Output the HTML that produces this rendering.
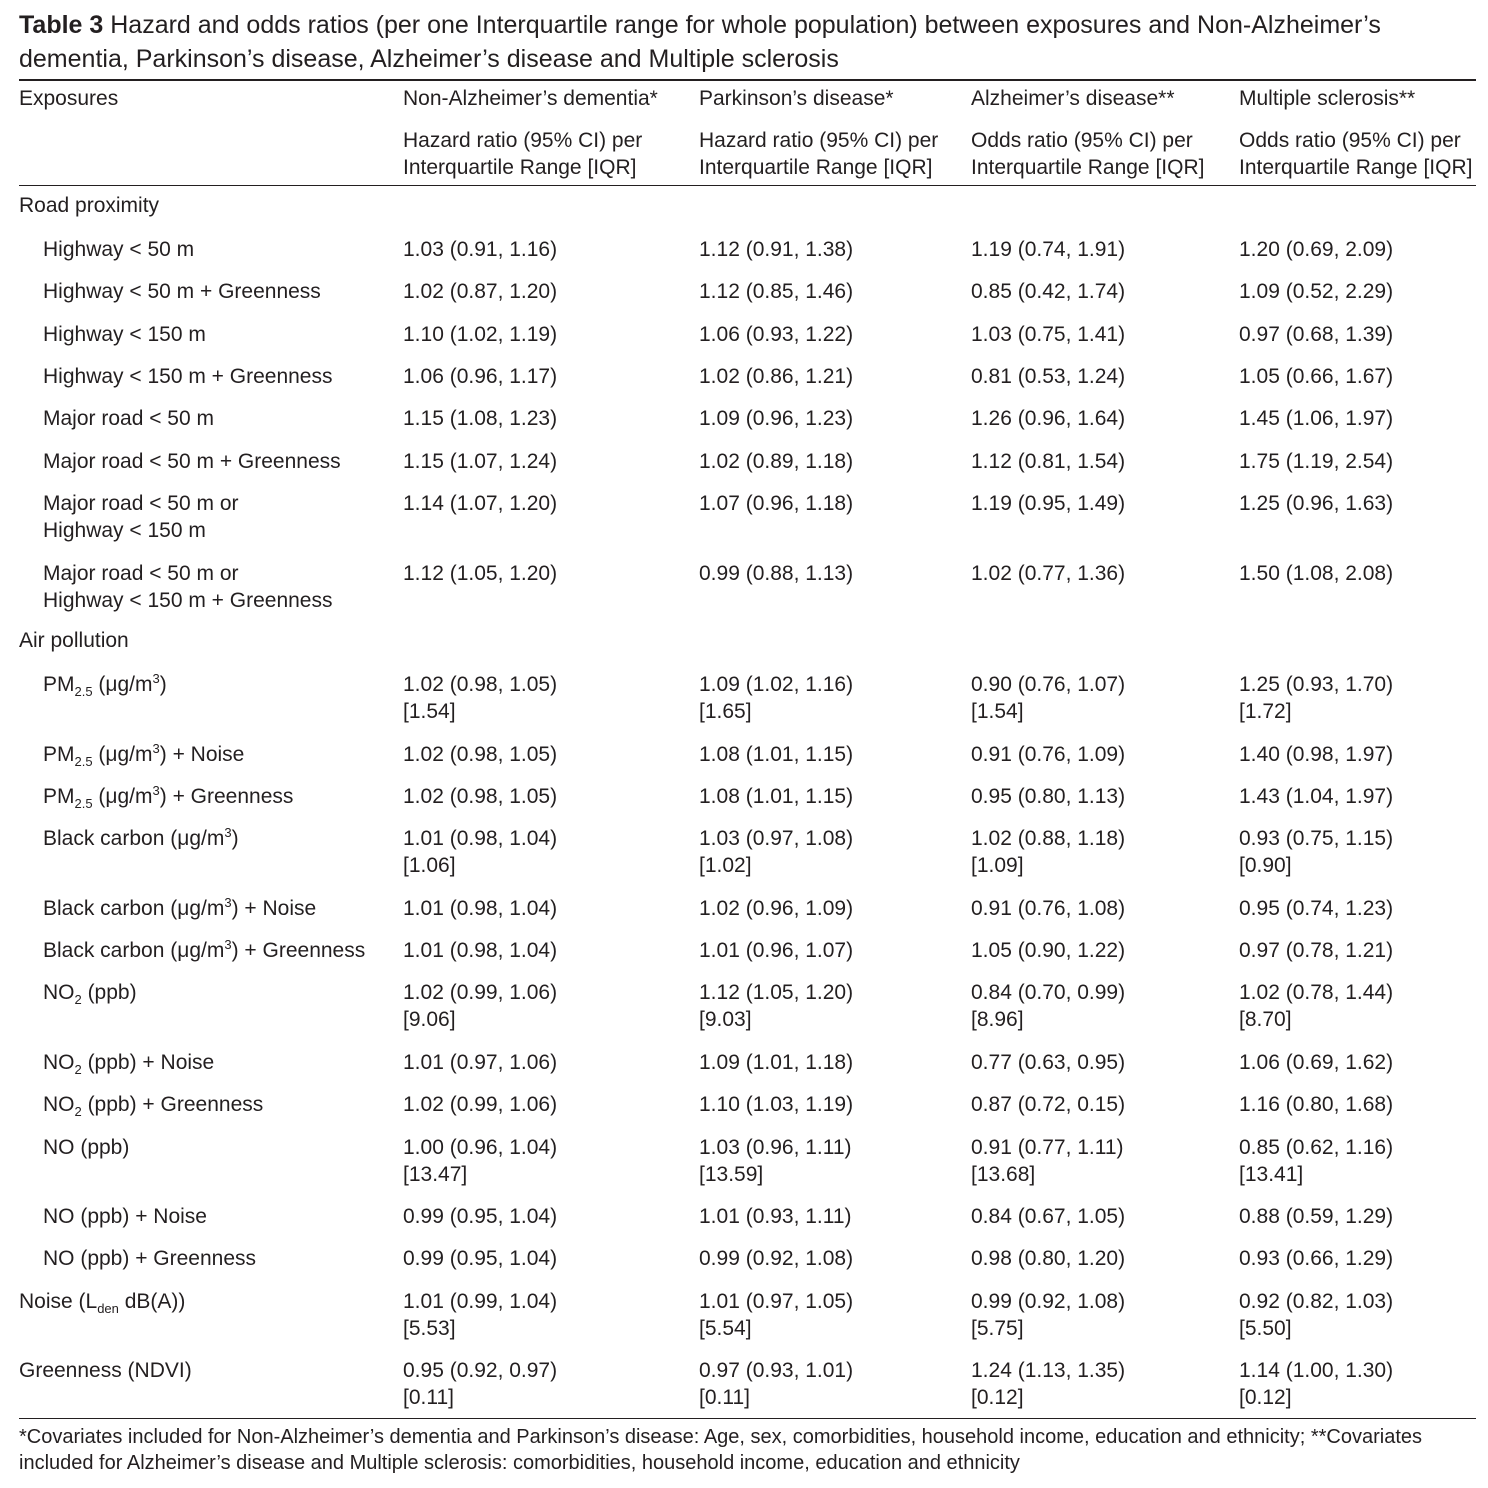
<!DOCTYPE html>
<html><head><meta charset="utf-8">
<style>
body{margin:0;background:#fff;}
#c{position:relative;width:1488px;height:1488px;font-family:"Liberation Sans","DejaVu Sans",sans-serif;color:#231f20;}
.t{position:absolute;white-space:nowrap;font-size:21px;line-height:24px;}
.h{position:absolute;left:19px;width:1457px;background:#231f20;}
sub,sup{font-size:13px;line-height:0;}
.ti{font-size:25px;line-height:28px;}
.f{font-size:20px;line-height:22px;}
</style></head><body><div id="c">
<div class="t ti" style="left:19px;top:11px"><b>Table 3</b> Hazard and odds ratios (per one Interquartile range for whole population) between exposures and Non-Alzheimer’s</div>
<div class="t ti" style="left:19px;top:45px">dementia, Parkinson’s disease, Alzheimer’s disease and Multiple sclerosis</div>
<div class="h" style="top:79px;height:2px"></div>
<div class="t" style="left:19px;top:87px">Exposures</div>
<div class="t" style="left:403px;top:87px">Non-Alzheimer’s dementia*</div>
<div class="t" style="left:699px;top:87px">Parkinson’s disease*</div>
<div class="t" style="left:971px;top:87px">Alzheimer’s disease**</div>
<div class="t" style="left:1239px;top:87px">Multiple sclerosis**</div>
<div class="t" style="left:403px;top:127px;line-height:27px">Hazard ratio (95% CI) per<br>Interquartile Range [IQR]</div>
<div class="t" style="left:699px;top:127px;line-height:27px">Hazard ratio (95% CI) per<br>Interquartile Range [IQR]</div>
<div class="t" style="left:971px;top:127px;line-height:27px">Odds ratio (95% CI) per<br>Interquartile Range [IQR]</div>
<div class="t" style="left:1239px;top:127px;line-height:27px">Odds ratio (95% CI) per<br>Interquartile Range [IQR]</div>
<div class="h" style="top:185px;height:1px"></div>
<div class="t" style="left:19px;top:194px">Road proximity</div>
<div class="t" style="left:19px;top:629px">Air pollution</div>
<div id="rows"></div>
<div class="h" style="top:1418px;height:1px"></div>
<div class="t f" style="left:19px;top:1426px">*Covariates included for Non-Alzheimer’s dementia and Parkinson’s disease: Age, sex, comorbidities, household income, education and ethnicity; **Covariates</div>
<div class="t f" style="left:19px;top:1452px">included for Alzheimer’s disease and Multiple sclerosis: comorbidities, household income, education and ethnicity</div>
</div>
<script>
var PM='PM<sub>2.5</sub> (μg/m<sup>3</sup>)',BC='Black carbon (μg/m<sup>3</sup>)',NO2='NO<sub>2</sub> (ppb)';
var R=[
[248,43,'Highway &lt; 50 m','1.03 (0.91, 1.16)','1.12 (0.91, 1.38)','1.19 (0.74, 1.91)','1.20 (0.69, 2.09)'],
[290,43,'Highway &lt; 50 m + Greenness','1.02 (0.87, 1.20)','1.12 (0.85, 1.46)','0.85 (0.42, 1.74)','1.09 (0.52, 2.29)'],
[333,43,'Highway &lt; 150 m','1.10 (1.02, 1.19)','1.06 (0.93, 1.22)','1.03 (0.75, 1.41)','0.97 (0.68, 1.39)'],
[375,43,'Highway &lt; 150 m + Greenness','1.06 (0.96, 1.17)','1.02 (0.86, 1.21)','0.81 (0.53, 1.24)','1.05 (0.66, 1.67)'],
[417,43,'Major road &lt; 50 m','1.15 (1.08, 1.23)','1.09 (0.96, 1.23)','1.26 (0.96, 1.64)','1.45 (1.06, 1.97)'],
[460,43,'Major road &lt; 50 m + Greenness','1.15 (1.07, 1.24)','1.02 (0.89, 1.18)','1.12 (0.81, 1.54)','1.75 (1.19, 2.54)'],
[502,43,'Major road &lt; 50 m or<br>Highway &lt; 150 m','1.14 (1.07, 1.20)','1.07 (0.96, 1.18)','1.19 (0.95, 1.49)','1.25 (0.96, 1.63)'],
[572,43,'Major road &lt; 50 m or<br>Highway &lt; 150 m + Greenness','1.12 (1.05, 1.20)','0.99 (0.88, 1.13)','1.02 (0.77, 1.36)','1.50 (1.08, 2.08)'],
[683,43,PM,'1.02 (0.98, 1.05)<br>[1.54]','1.09 (1.02, 1.16)<br>[1.65]','0.90 (0.76, 1.07)<br>[1.54]','1.25 (0.93, 1.70)<br>[1.72]'],
[753,43,PM+' + Noise','1.02 (0.98, 1.05)','1.08 (1.01, 1.15)','0.91 (0.76, 1.09)','1.40 (0.98, 1.97)'],
[795,43,PM+' + Greenness','1.02 (0.98, 1.05)','1.08 (1.01, 1.15)','0.95 (0.80, 1.13)','1.43 (1.04, 1.97)'],
[837,43,BC,'1.01 (0.98, 1.04)<br>[1.06]','1.03 (0.97, 1.08)<br>[1.02]','1.02 (0.88, 1.18)<br>[1.09]','0.93 (0.75, 1.15)<br>[0.90]'],
[907,43,BC+' + Noise','1.01 (0.98, 1.04)','1.02 (0.96, 1.09)','0.91 (0.76, 1.08)','0.95 (0.74, 1.23)'],
[949,43,BC+' + Greenness','1.01 (0.98, 1.04)','1.01 (0.96, 1.07)','1.05 (0.90, 1.22)','0.97 (0.78, 1.21)'],
[991,43,NO2,'1.02 (0.99, 1.06)<br>[9.06]','1.12 (1.05, 1.20)<br>[9.03]','0.84 (0.70, 0.99)<br>[8.96]','1.02 (0.78, 1.44)<br>[8.70]'],
[1061,43,NO2+' + Noise','1.01 (0.97, 1.06)','1.09 (1.01, 1.18)','0.77 (0.63, 0.95)','1.06 (0.69, 1.62)'],
[1103,43,NO2+' + Greenness','1.02 (0.99, 1.06)','1.10 (1.03, 1.19)','0.87 (0.72, 0.15)','1.16 (0.80, 1.68)'],
[1146,43,'NO (ppb)','1.00 (0.96, 1.04)<br>[13.47]','1.03 (0.96, 1.11)<br>[13.59]','0.91 (0.77, 1.11)<br>[13.68]','0.85 (0.62, 1.16)<br>[13.41]'],
[1215,43,'NO (ppb) + Noise','0.99 (0.95, 1.04)','1.01 (0.93, 1.11)','0.84 (0.67, 1.05)','0.88 (0.59, 1.29)'],
[1257,43,'NO (ppb) + Greenness','0.99 (0.95, 1.04)','0.99 (0.92, 1.08)','0.98 (0.80, 1.20)','0.93 (0.66, 1.29)'],
[1300,19,'Noise (L<sub>den</sub> dB(A))','1.01 (0.99, 1.04)<br>[5.53]','1.01 (0.97, 1.05)<br>[5.54]','0.99 (0.92, 1.08)<br>[5.75]','0.92 (0.82, 1.03)<br>[5.50]'],
[1369,19,'Greenness (NDVI)','0.95 (0.92, 0.97)<br>[0.11]','0.97 (0.93, 1.01)<br>[0.11]','1.24 (1.13, 1.35)<br>[0.12]','1.14 (1.00, 1.30)<br>[0.12]']];
var X=[403,699,971,1239],h='';
R.forEach(function(r){var t=r[0]-12;
h+='<div class="t" style="left:'+r[1]+'px;top:'+t+'px;line-height:27px">'+r[2]+'</div>';
for(var i=0;i<4;i++)h+='<div class="t" style="left:'+X[i]+'px;top:'+t+'px;line-height:27px">'+r[3+i]+'</div>';});
document.getElementById('rows').outerHTML=h;
</script>
</body></html>
